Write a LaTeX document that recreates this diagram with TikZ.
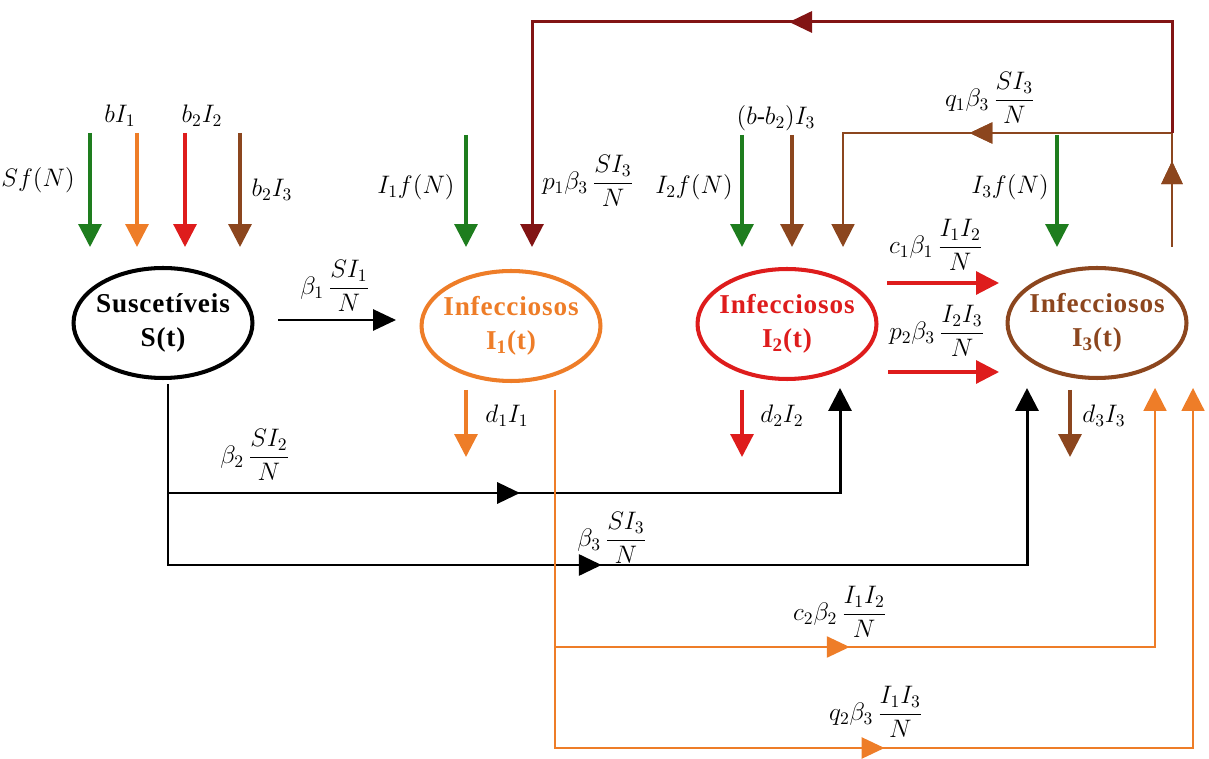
\documentclass[tikz,border=0pt]{standalone}
\usepackage{amsmath}
\usepackage{fontspec}
\setmainfont{Liberation Serif}
\usetikzlibrary{positioning,arrows.meta,shapes.geometric,decorations.markings}

\definecolor{sgreen}{RGB}{30,125,30}
\definecolor{iorange}{RGB}{238,125,40}
\definecolor{ired}{RGB}{222,28,28}
\definecolor{ibrown}{RGB}{140,70,30}
\definecolor{imaroon}{RGB}{130,20,20}

\begin{document}
\begin{tikzpicture}[
    x=0.02cm, y=-0.02cm,
    comp/.style    = {ellipse, draw, line width=2.3pt, minimum width=3.58cm, minimum height=2.2cm,
                      inner xsep=-9pt, inner ysep=0pt, align=center,
                      font=\fontsize{15.5}{19}\selectfont\bfseries\addfontfeature{LetterSpace=3}},
    flow/.style    = {line width=1.8pt, -{Triangle[width=13pt,length=13pt]}},
    path/.style    = {line width=1.7pt},
    thin/.style    = {line width=1.2pt},
    midarrow/.style= {postaction={decorate}, decoration={markings,
                      mark=at position #1 with {\arrow{Triangle[width=12pt,length=13pt]}}}},
    lbl/.style     = {font=\fontsize{14}{16}\selectfont, inner sep=1pt},
]
\useasboundingbox (0,0) rectangle (1209,759);

% --- compartments ---
\node[comp] (S) at (163,323) {Suscetíveis\\S(t)};
\node[comp, draw=iorange, text=iorange] (I1) at (511,326) {Infecciosos\\I\textsubscript{1}(t)};
\node[comp, draw=ired, text=ired]       (I2) at (787,324) {Infecciosos\\I\textsubscript{2}(t)};
\node[comp, draw=ibrown, text=ibrown]   (I3) at (1097,323) {Infecciosos\\I\textsubscript{3}(t)};

% --- births into S ---
\foreach \x/\c/\n in {90/sgreen/sg, 137/iorange/so, 185/ired/sr, 240/ibrown/sb} {
    \coordinate (\n0) at (\x,133);
    \coordinate (\n1) at (\x,247);
    \draw[flow, \c] (\n0) -- (\n1);
}
\node[lbl] at (38,180)  {$Sf(N)$};
\node[lbl] at (120,116) {$bI_1$};
\node[lbl] at (202,116) {$b_2I_2$};
\node[lbl] at (272,190) {$b_2I_3$};

% --- inputs to I1, I2, I3 ---
\coordinate (ig0) at (466,135);  \coordinate (ig1) at (466,247);
\coordinate (jg0) at (742,135);  \coordinate (jg1) at (742,247);
\coordinate (jb0) at (792,135);  \coordinate (jb1) at (792,247);
\coordinate (kg0) at (1057,135); \coordinate (kg1) at (1057,247);
\draw[flow, sgreen] (ig0) -- (ig1);
\draw[flow, sgreen] (jg0) -- (jg1);
\draw[flow, ibrown] (jb0) -- (jb1);
\draw[flow, sgreen] (kg0) -- (kg1);
\node[lbl] at (416,187)  {$I_1f(N)$};
\node[lbl] at (694,187)  {$I_2f(N)$};
\node[lbl] at (776,118)  {$(b\text{-}b_2)I_3$};
\node[lbl] at (1010,187) {$I_3f(N)$};

% --- feedback loops from I3 ---
\coordinate (k0) at (1172,247);
\coordinate (k1) at (1172,133);
\coordinate (p1) at (532,247);
\coordinate (q1) at (843,247);
\draw[thin, ibrown, midarrow=0.154, midarrow=0.568, -{Triangle[width=13pt,length=13pt]}]
    (k0) -- (k1) -| (q1);
\draw[path, imaroon, midarrow=0.506, -{Triangle[width=13pt,length=13pt]}]
    (k1) -- (1172,22) -| (p1);
\node[lbl] at (588,181) {$p_1\beta_3\,\dfrac{SI_3}{N}$};
\node[lbl] at (990,98)  {$q_1\beta_3\,\dfrac{SI_3}{N}$};

% --- S to I1 ---
\coordinate (s1a) at (278,320); \coordinate (s1b) at (396,320);
\draw[thin, -{Triangle[width=12pt,length=13pt]}] (s1a) -- (s1b);
\node[lbl] at (335,286) {$\beta_1\,\dfrac{SI_1}{N}$};

% --- I2 to I3 ---
\coordinate (r1a) at (887,283); \coordinate (r1b) at (999,283);
\coordinate (r2a) at (888,372); \coordinate (r2b) at (999,372);
\draw[flow, ired] (r1a) -- (r1b);
\draw[flow, ired] (r2a) -- (r2b);
\node[lbl] at (936,245) {$c_1\beta_1\,\dfrac{I_1I_2}{N}$};
\node[lbl] at (937,331) {$p_2\beta_3\,\dfrac{I_2I_3}{N}$};

% --- deaths ---
\coordinate (d1a) at (466,390);  \coordinate (d1b) at (466,457);
\coordinate (d2a) at (742,390);  \coordinate (d2b) at (742,457);
\coordinate (d3a) at (1070,390); \coordinate (d3b) at (1070,457);
\draw[flow, iorange] (d1a) -- (d1b);
\draw[flow, ired]    (d2a) -- (d2b);
\draw[flow, ibrown]  (d3a) -- (d3b);
\node[lbl] at (507,416)  {$d_1I_1$};
\node[lbl] at (782,416)  {$d_2I_2$};
\node[lbl] at (1104,416) {$d_3I_3$};

% --- S to I2 and I3 ---
\coordinate (sv)  at (168,384);
\coordinate (sb2) at (168,493);
\coordinate (t2) at (840,388);
\coordinate (t3) at (1027,388);
\draw[path, midarrow=0.505, -{Triangle[width=13pt,length=13pt]}]
    (sv) |- (1027,565) -- (t3);
\draw[path, midarrow=0.453, -{Triangle[width=13pt,length=13pt]}]
    (sb2) -| (t2);
\node[lbl] at (255,455) {$\beta_2\,\dfrac{SI_2}{N}$};
\node[lbl] at (612,538) {$\beta_3\,\dfrac{SI_3}{N}$};

% --- I1 to I3 ---
\coordinate (o0) at (555,390);
\coordinate (o1) at (555,647);
\coordinate (u2) at (1155,388);
\coordinate (u3) at (1193,388);
\draw[thin, iorange, midarrow=0.507, -{Triangle[width=13pt,length=13pt]}]
    (o0) |- (1193,748) -- (u3);
\draw[thin, iorange, midarrow=0.343, -{Triangle[width=13pt,length=13pt]}]
    (o1) -| (u2);
\node[lbl] at (840,612) {$c_2\beta_2\,\dfrac{I_1I_2}{N}$};
\node[lbl] at (876,712) {$q_2\beta_3\,\dfrac{I_1I_3}{N}$};

\end{tikzpicture}
\end{document}
